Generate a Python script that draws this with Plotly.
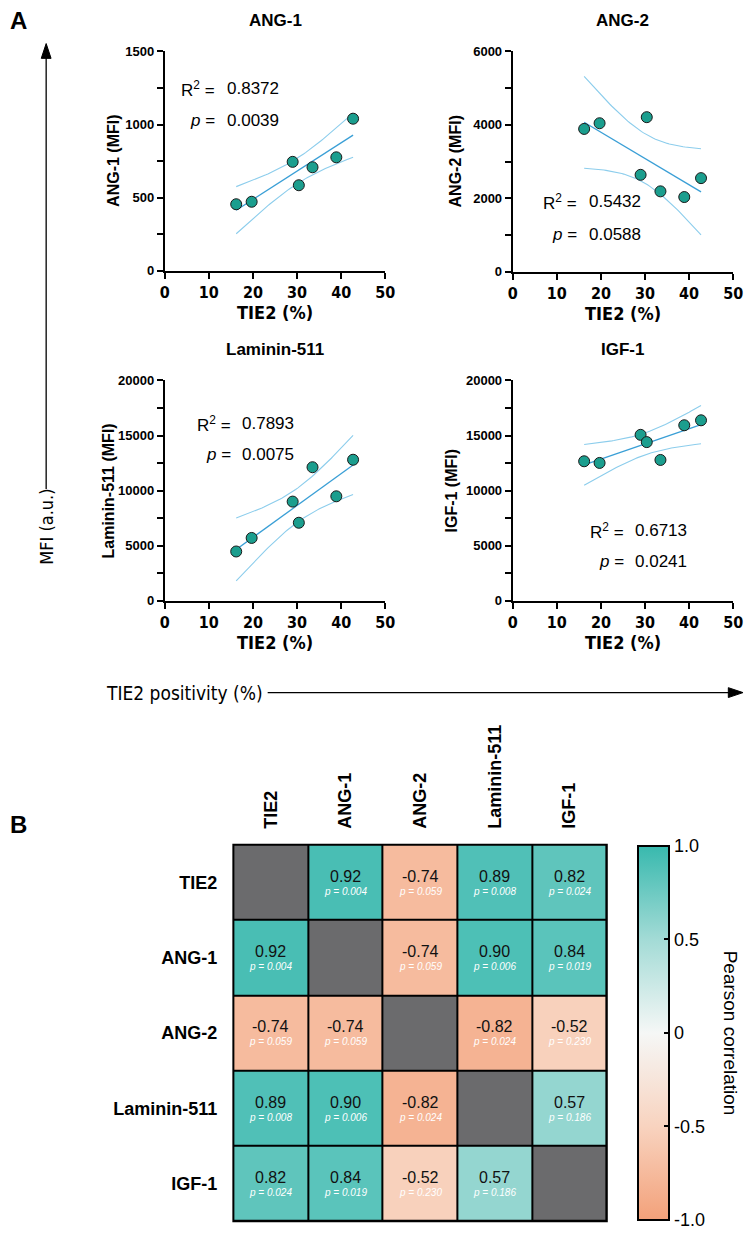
import numpy as np
import plotly.graph_objects as go

W, H = 754, 1240

# ---------------- data ----------------
tie2 = [16.2, 19.7, 29.0, 30.4, 33.5, 38.9, 42.7]
ang1 = [455, 472, 745, 585, 708, 776, 1040]
ang2 = [3890, 4045, 2640, 4210, 2190, 2035, 2550]
laminin = [4470, 5700, 9000, 7080, 12120, 9480, 12800]
igf1 = [12660, 12510, 15060, 14400, 12780, 15930, 16380]

panel_titles = ["ANG-1", "ANG-2", "Laminin-511", "IGF-1"]
y_titles = ["ANG-1 (MFI)", "ANG-2 (MFI)", "Laminin-511 (MFI)", "IGF-1 (MFI)"]
r2_values = ["0.8372", "0.5432", "0.7893", "0.6713"]
p_values = ["0.0039", "0.0588", "0.0075", "0.0241"]
y_max = [1500, 6000, 20000, 20000]
y_dtick = [500, 2000, 5000, 5000]
x_ticks = [0, 10, 20, 30, 40, 50]

heat_labels = ["TIE2", "ANG-1", "ANG-2", "Laminin-511", "IGF-1"]
heat_r = [
    [None, 0.92, -0.74, 0.89, 0.82],
    [0.92, None, -0.74, 0.90, 0.84],
    [-0.74, -0.74, None, -0.82, -0.52],
    [0.89, 0.90, -0.82, None, 0.57],
    [0.82, 0.84, -0.52, 0.57, None],
]
heat_p = [
    [None, "0.004", "0.059", "0.008", "0.024"],
    ["0.004", None, "0.059", "0.006", "0.019"],
    ["0.059", "0.059", None, "0.024", "0.230"],
    ["0.008", "0.006", "0.024", None, "0.186"],
    ["0.024", "0.019", "0.230", "0.186", None],
]
cbar_tickvals = [-1, -0.5, 0, 0.5, 1]
cbar_ticktext = ["-1.0", "-0.5", "0", "0.5", "1.0"]

# ---------------- helpers ----------------
def X(px):
    return px / W

def Y(py):
    return 1 - py / H

FONT = "Liberation Sans, Arial, sans-serif"
COND = "DejaVu Sans Condensed, Liberation Sans Narrow, Arial Narrow, Liberation Sans, sans-serif"
TEAL = "#1b9e8e"
LINE_BLUE = "#3a9fd6"
CI_BLUE = "#8ccdec"

# panel pixel boxes (x0, x1, ytop, ybottom)
boxes = [(163, 388, 45, 267), (518, 743, 45, 268), (163, 388, 378, 601), (518, 743, 378, 601)]
# R2 text positions: (eq right edge, value left edge, y line1, y line2)
r2_pos = [(216, 224, 83, 115), (586, 594, 197, 230), (233, 240, 422, 453), (634, 641, 530, 561)]
ytitle_x = [110, 460, 106, 456]

series = [ang1, ang2, laminin, igf1]

fig = go.Figure()
layout_axes = {}
annotations = []
T_CRIT = 2.5706  # t(0.975, df=5)

for i, ys in enumerate(series):
    n = i + 1
    xs = np.array(tie2, dtype=float)
    yv = np.array(ys, dtype=float)
    slope, intercept = np.polyfit(xs, yv, 1)
    xf = np.linspace(xs.min(), xs.max(), 60)
    yf = slope * xf + intercept
    resid = yv - (slope * xs + intercept)
    s = np.sqrt(np.sum(resid ** 2) / (len(xs) - 2))
    sxx = np.sum((xs - xs.mean()) ** 2)
    se = s * np.sqrt(1 / len(xs) + (xf - xs.mean()) ** 2 / sxx)
    xa = "x" if n == 1 else f"x{n}"
    ya = "y" if n == 1 else f"y{n}"
    for band in (yf + T_CRIT * se, yf - T_CRIT * se):
        fig.add_trace(go.Scatter(x=xf, y=band, mode="lines", line=dict(color=CI_BLUE, width=1.1),
                                 xaxis=xa, yaxis=ya, showlegend=False, hoverinfo="skip"))
    fig.add_trace(go.Scatter(x=xf, y=yf, mode="lines", line=dict(color=LINE_BLUE, width=1.3),
                             xaxis=xa, yaxis=ya, showlegend=False, hoverinfo="skip"))
    fig.add_trace(go.Scatter(x=tie2, y=ys, mode="markers",
                             marker=dict(size=11, color=TEAL, line=dict(color="#1a1a1a", width=1)),
                             xaxis=xa, yaxis=ya, showlegend=False))

    x0, x1, yt, yb = boxes[i]
    key = "" if n == 1 else str(n)
    layout_axes[f"xaxis{key}"] = dict(
        domain=[X(x0), X(x1)], anchor=ya, range=[0, 50], tickvals=x_ticks,
        showline=True, linewidth=2, linecolor="black", ticks="outside", ticklen=6, tickwidth=2,
        tickcolor="black", showgrid=False, zeroline=False,
        tickfont=dict(family=COND, size=16, color="black", weight="bold"),
    )
    layout_axes[f"yaxis{key}"] = dict(
        domain=[Y(yb), Y(yt)], anchor=xa, range=[0, y_max[i]], dtick=y_dtick[i], tick0=0,
        tickformat="d",
        showline=True, linewidth=2, linecolor="black", ticks="outside", ticklen=6, tickwidth=2,
        tickcolor="black", showgrid=False, zeroline=False,
        tickfont=dict(family=FONT, size=13, color="black", weight="bold"),
        minor=dict(dtick=y_dtick[i] / 2, ticks="outside", ticklen=6, tickwidth=2, tickcolor="black",
                   showgrid=False),
    )
    # panel title
    annotations.append(dict(text=panel_titles[i], x=X((x0 + x1) / 2), y=Y(yt - 31), xref="paper", yref="paper",
                            showarrow=False, xanchor="center", yanchor="middle",
                            font=dict(family=FONT, size=17, color="black", weight="bold")))
    # x title
    annotations.append(dict(text="TIE2 (%)", x=X((x0 + x1) / 2), y=Y(yb + 42), xref="paper", yref="paper",
                            showarrow=False, xanchor="center", yanchor="middle",
                            font=dict(family=COND, size=18, color="black", weight="bold")))
    # y title
    annotations.append(dict(text=y_titles[i], x=X(ytitle_x[i]), y=Y((yt + yb) / 2), xref="paper", yref="paper",
                            showarrow=False, textangle=-90, xanchor="center", yanchor="middle",
                            font=dict(family=FONT, size=16, color="black", weight="bold")))
    # R2 / p text
    ex, vx, y1, y2 = r2_pos[i]
    for lbl, val, yy in (("R<sup>2</sup> =", r2_values[i], y1), ("<i>p</i> =", p_values[i], y2)):
        annotations.append(dict(text=lbl, x=X(ex), y=Y(yy), xref="paper", yref="paper", showarrow=False,
                                xanchor="right", yanchor="middle",
                                font=dict(family=FONT, size=17, color="black")))
        annotations.append(dict(text=val, x=X(vx), y=Y(yy), xref="paper", yref="paper", showarrow=False,
                                xanchor="left", yanchor="middle",
                                font=dict(family=FONT, size=17, color="black")))

# ---------------- heatmap ----------------
colorscale = [
    [0.0, "#f3a17a"],
    [0.25, "#f8d3bf"],
    [0.5, "#f5f7f6"],
    [0.75, "#a3dbd6"],
    [1.0, "#38b9ae"],
]
z_diag = [[1 if i == j else None for j in range(len(heat_labels))] for i in range(len(heat_labels))]

cb_top, cb_bot = 849, 1228
fig.add_trace(go.Heatmap(
    z=heat_r, x=heat_labels, y=heat_labels, zmin=-1, zmax=1, colorscale=colorscale,
    xgap=2, ygap=2, xaxis="x5", yaxis="y5", hoverongaps=False,
    colorbar=dict(
        x=X(646), xanchor="left", xpad=0, ypad=0, thickness=31, thicknessmode="pixels",
        len=(cb_bot - cb_top) / H, lenmode="fraction", y=Y((cb_top + cb_bot) / 2), yanchor="middle",
        outlinewidth=2, outlinecolor="black", tickvals=cbar_tickvals, ticktext=cbar_ticktext,
        ticks="inside", ticklen=6, tickwidth=2, tickcolor="black",
        tickfont=dict(family=FONT, size=18, color="black"),
    ),
))
fig.add_trace(go.Heatmap(
    z=z_diag, x=heat_labels, y=heat_labels, zmin=0, zmax=1,
    colorscale=[[0, "#6b6b6d"], [1, "#6b6b6d"]], showscale=False,
    xgap=2, ygap=2, xaxis="x5", yaxis="y5", hoverinfo="skip",
))

layout_axes["xaxis5"] = dict(
    domain=[X(233), X(614)], anchor="y5", side="top", tickangle=-90, showgrid=False, zeroline=False,
    showline=False, ticks="", ticklabelstandoff=15,
    tickfont=dict(family=FONT, size=18, color="black", weight="bold"),
)
layout_axes["yaxis5"] = dict(
    domain=[Y(1229), Y(848)], anchor="x5", autorange="reversed", showgrid=False, zeroline=False,
    showline=False, ticks="", ticklabelstandoff=15,
    tickfont=dict(family=FONT, size=18, color="black", weight="bold"),
)

for i, row in enumerate(heat_labels):
    for j, col in enumerate(heat_labels):
        if heat_r[i][j] is None:
            continue
        annotations.append(dict(text=f"{heat_r[i][j]:.2f}", x=col, y=row, xref="x5", yref="y5",
                                showarrow=False, yshift=6,
                                font=dict(family=FONT, size=16, color="#111111")))
        annotations.append(dict(text=f"<i>p = {heat_p[i][j]}</i>", x=col, y=row, xref="x5", yref="y5",
                                showarrow=False, yshift=-9,
                                font=dict(family=FONT, size=10, color="white")))

# colorbar title
annotations.append(dict(text="Pearson correlation", x=X(740), y=Y((cb_top + cb_bot) / 2), xref="paper",
                        yref="paper", showarrow=False, textangle=90, xanchor="center", yanchor="middle",
                        font=dict(family=FONT, size=19, color="black")))

# panel letters
annotations.append(dict(text="A", x=X(3), y=Y(14), xref="paper", yref="paper", showarrow=False,
                        xanchor="left", yanchor="middle", font=dict(family=FONT, size=24, color="black", weight="bold")))
annotations.append(dict(text="B", x=X(3), y=Y(828), xref="paper", yref="paper", showarrow=False,
                        xanchor="left", yanchor="middle", font=dict(family=FONT, size=24, color="black", weight="bold")))

# big axis labels
annotations.append(dict(text="MFI (a.u.)", x=X(42), y=Y(526), xref="paper", yref="paper", showarrow=False,
                        textangle=-90, xanchor="center", yanchor="middle",
                        font=dict(family=COND, size=18, color="black")))
annotations.append(dict(text="TIE2 positivity (%)", x=X(265), y=Y(694), xref="paper", yref="paper",
                        showarrow=False, xanchor="right", yanchor="middle",
                        font=dict(family=COND, size=19, color="black")))

shapes = [
    dict(type="rect", xref="x5 domain", yref="y5 domain", x0=0, x1=1, y0=0, y1=1,
         fillcolor="black", line=dict(color="black", width=2), layer="below"),
    # vertical arrow (MFI)
    dict(type="line", xref="paper", yref="paper", x0=X(42), x1=X(42), y0=Y(488), y1=Y(48),
         line=dict(color="black", width=1.3)),
    dict(type="path", xref="paper", yref="paper",
         path=f"M {X(42)} {Y(37)} L {X(37)} {Y(52)} L {X(47)} {Y(52)} Z",
         fillcolor="black", line=dict(color="black", width=1)),
    # horizontal arrow (TIE2 positivity)
    dict(type="line", xref="paper", yref="paper", x0=X(268), x1=X(742), y0=Y(694), y1=Y(694),
         line=dict(color="black", width=1.3)),
    dict(type="path", xref="paper", yref="paper",
         path=f"M {X(753)} {Y(694)} L {X(738)} {Y(689)} L {X(738)} {Y(699)} Z",
         fillcolor="black", line=dict(color="black", width=1)),
]
# left-side colorbar ticks
for v in cbar_tickvals[1:-1]:
    py = cb_bot - (v + 1) / 2 * (cb_bot - cb_top)
    shapes.append(dict(type="line", xref="paper", yref="paper", x0=X(647), x1=X(653), y0=Y(py), y1=Y(py),
                       line=dict(color="black", width=2)))

fig.update_layout(
    width=W, height=H, margin=dict(l=0, r=0, t=0, b=0),
    paper_bgcolor="white", plot_bgcolor="white", showlegend=False,
    annotations=annotations, shapes=shapes, **layout_axes,
)

fig.write_html("out.html")
